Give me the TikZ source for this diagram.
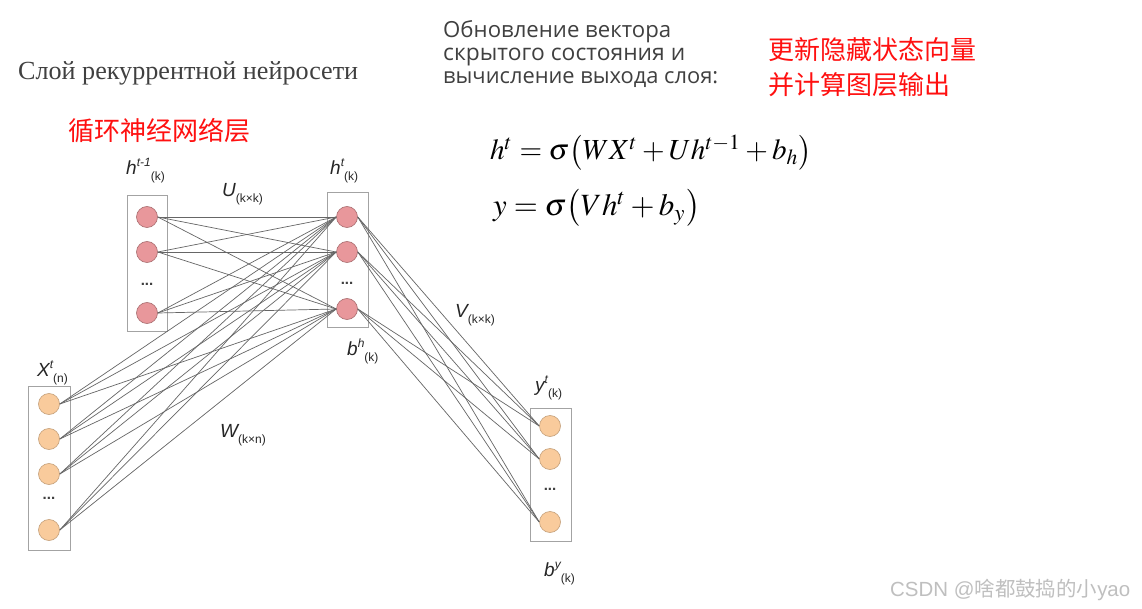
\documentclass[tikz,border=0pt]{standalone}
\usepackage{mathptmx}
\usepackage{fontspec}
\usepackage{graphicx}
\setmainfont{Liberation Serif}
\newfontfamily\cyrsans{Open Sans}
\newfontfamily\lsans{Liberation Sans}
\newfontfamily\cjk{Noto Sans CJK SC}
\definecolor{pinkf}{HTML}{E8979B}
\definecolor{pinkd}{HTML}{A86C6E}
\definecolor{orgf}{HTML}{F9CB9C}
\definecolor{orgd}{HTML}{C4A07A}
\definecolor{boxc}{HTML}{A3A3A3}
\definecolor{linec}{HTML}{666666}
\definecolor{redt}{HTML}{FF1010}
\newcommand{\lab}[3]{{\lsans\fontsize{19}{19}\selectfont\itshape #1}\raisebox{8pt}{\lsans\fontsize{12}{12}\selectfont\itshape #2}\raisebox{-6pt}{\lsans\fontsize{12}{12}\selectfont (#3)}}
\begin{document}
\begin{tikzpicture}[x=1pt,y=-1pt,
  pcirc/.style={circle,fill=pinkf,draw=pinkd,line width=0.6pt,minimum size=21pt,inner sep=0pt},
  ocirc/.style={circle,fill=orgf,draw=orgd,line width=0.6pt,minimum size=21pt,inner sep=0pt},
  layerbox/.style={draw=boxc,line width=1pt},
  conn/.style={draw=linec,line width=0.7pt},
  lbl/.style={anchor=base west,inner sep=0pt,text=black!85},
  dotsn/.style={inner sep=0pt,text=black!75,font=\lsans\bfseries\fontsize{15}{15}\selectfont}]
\useasboundingbox[fill=white] (0,0) rectangle (1142,609);
% boxes
\draw[layerbox] (127,196) rectangle (167,331);
\draw[layerbox] (327,193) rectangle (368,327);
\draw[layerbox] (28,386) rectangle (70,550);
\draw[layerbox] (530,408) rectangle (571,541);
% circles
\node[pcirc] (pa) at (147,217) {};
\node[pcirc] (pb) at (147,252) {};
\node[pcirc] (pc) at (147,313) {};
\node[dotsn] (pd) at (147,284) {...};
\node[pcirc] (qa) at (347,217) {};
\node[pcirc] (qb) at (347,252) {};
\node[pcirc] (qc) at (347,309) {};
\node[dotsn] (qd) at (347,283) {...};
\node[ocirc] (xa) at (49,404) {};
\node[ocirc] (xb) at (49,439) {};
\node[ocirc] (xc) at (49,474) {};
\node[ocirc] (xd) at (49,530) {};
\node[dotsn] (xe) at (49,498) {...};
\node[ocirc] (ya) at (550,426) {};
\node[ocirc] (yb) at (550,459) {};
\node[ocirc] (yc) at (550,522) {};
\node[dotsn] (yd) at (550,489) {...};
% connections
\foreach \a in {a,b,c}{\foreach \b in {a,b,c}{\draw[conn] (p\a.east) -- (q\b.west);}}
\foreach \a in {a,b,c,d}{\foreach \b in {a,b,c}{\draw[conn] (x\a.east) -- (q\b.west);}}
\foreach \a in {a,b,c}{\foreach \b in {a,b,c}{\draw[conn] (q\a.east) -- (y\b.west);}}
% network labels
\node[lbl] (lhp) at (126,175) {\lab{h}{t-1}{k}};
\node[lbl] (lu) at (222,197) {\lab{U}{}{k×k}};
\node[lbl] (lht) at (330,175) {\lab{h}{t}{k}};
\node[lbl] (lx) at (37,376) {\lab{X}{t}{n}};
\node[lbl] (lw) at (220,437) {\lab{W}{}{k×n}};
\node[lbl] (lv) at (455,317) {\lab{V}{}{k×k}};
\node[lbl] (lbh) at (347,355) {\lab{b}{h}{k}};
\node[lbl] (lyt) at (535,391) {\lab{y}{t}{k}};
\node[lbl] (lby) at (544,576) {\lab{b}{y}{k}};
% title
\node[anchor=base west,inner sep=0pt,text=black!75] (title) at (18,80) {\resizebox{340pt}{!}{Слой рекуррентной нейросети}};
\node[anchor=west,inner sep=0pt,text=redt,font=\cjk\fontsize{26}{26}\selectfont] (cn1) at (68,131) {循环神经网络层};
% right text
\node[anchor=base west,inner sep=0pt,text=black!75] (r1) at (443,38) {\resizebox{228pt}{!}{\cyrsans Обновление вектора}};
\node[anchor=base west,inner sep=0pt,text=black!75] (r2) at (443,61) {\resizebox{242pt}{!}{\cyrsans скрытого состояния и}};
\node[anchor=base west,inner sep=0pt,text=black!75] (r3) at (443,84) {\resizebox{275pt}{!}{\cyrsans вычисление выхода слоя:}};
\node[anchor=west,inner sep=0pt,text=redt,font=\cjk\fontsize{26}{26}\selectfont] (cn2) at (768,50) {更新隐藏状态向量};
\node[anchor=west,inner sep=0pt,text=redt,font=\cjk\fontsize{26}{26}\selectfont] (cn3) at (768,85) {并计算图层输出};
% formulas
\node[anchor=base west,inner sep=0pt] (f1) at (490,160) {\resizebox{322pt}{!}{$h^t=\sigma\big(WX^t+Uh^{t-1}+b_h\big)$}};
\node[anchor=base west,inner sep=0pt] (f2) at (493,216) {\resizebox{207pt}{!}{$y=\sigma\big(Vh^t+b_y\big)$}};
% watermark
\node[anchor=base west,inner sep=0pt,text=black!25] (wm) at (890,596) {\resizebox{240pt}{!}{\lsans CSDN @{\cjk 啥都鼓捣的小}yao}};
\end{tikzpicture}
\end{document}
